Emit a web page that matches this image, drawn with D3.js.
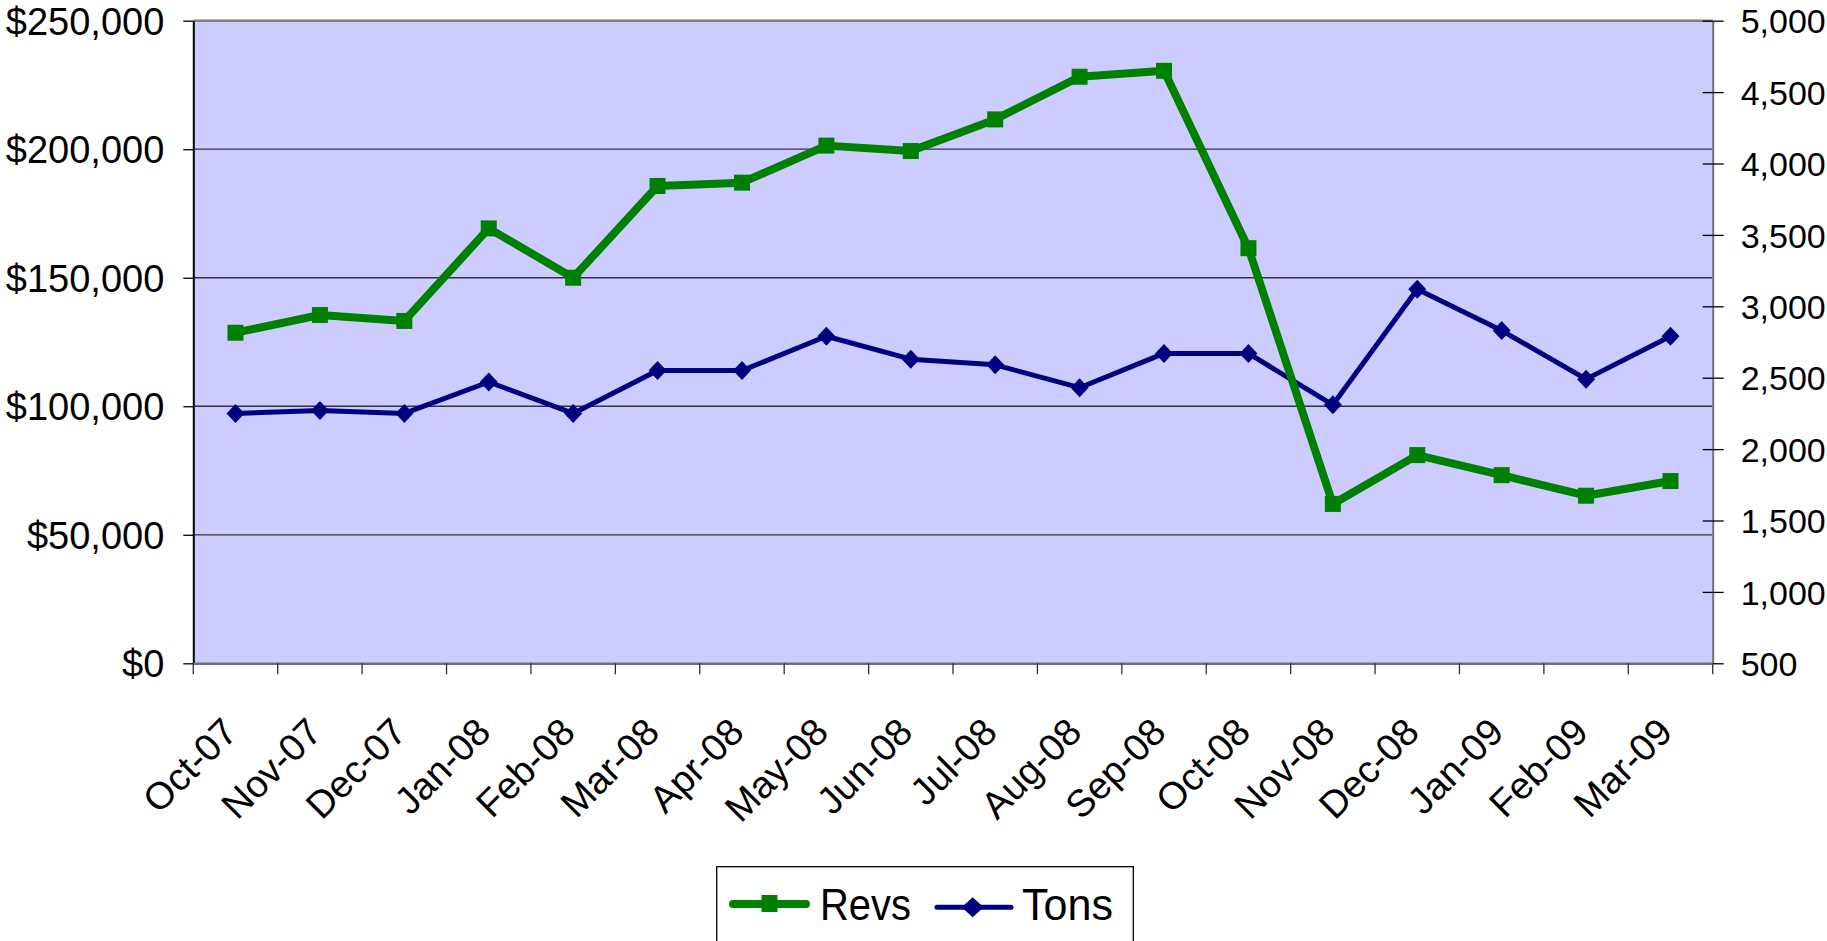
<!DOCTYPE html>
<html>
<head>
<meta charset="utf-8">
<script src="https://cdn.jsdelivr.net/npm/d3@7"></script>
<style>
  html, body { margin: 0; padding: 0; background: #fff; }
  svg { display: block; }
  text { font-family: "Liberation Sans", Arial, sans-serif; fill: #000; }
</style>
</head>
<body>
<svg id="chart" width="1827" height="941"></svg>
<script>
const categories = ["Oct-07","Nov-07","Dec-07","Jan-08","Feb-08","Mar-08","Apr-08","May-08","Jun-08","Jul-08","Aug-08","Sep-08","Oct-08","Nov-08","Dec-08","Jan-09","Feb-09","Mar-09"];
const revs = [128600, 135500, 133200, 169200, 150000, 185700, 187000, 201400, 199300, 211600, 228200, 230500, 161500, 62000, 81000, 73200, 65200, 70900];
const tons = [2250, 2270, 2250, 2470, 2250, 2550, 2550, 2790, 2630, 2590, 2430, 2670, 2670, 2310, 3120, 2830, 2490, 2790];
const leftTicks = [0, 50000, 100000, 150000, 200000, 250000];
const rightTicks = [500, 1000, 1500, 2000, 2500, 3000, 3500, 4000, 4500, 5000];
const seriesNames = ["Revs", "Tons"];

const svg = d3.select("#chart");
const L = 193.3, R = 1712.7, T = 20.7, B = 663.3;

const x = d3.scaleBand().domain(categories).range([L, R]).padding(0);
const yL = d3.scaleLinear().domain([0, 250000]).range([B, T]);
const yR = d3.scaleLinear().domain([500, 5000]).range([B, T]);

// plot background
svg.append("rect").attr("x", L).attr("y", T).attr("width", R - L).attr("height", B - T)
  .attr("fill", "#CCCCFF");

// gridlines
svg.append("g").selectAll("line").data(leftTicks.filter(d => d > 0 && d < 250000)).join("line")
  .attr("x1", L).attr("x2", R).attr("y1", d => yL(d)).attr("y2", d => yL(d))
  .attr("stroke", "#303040").attr("stroke-width", 1.3);

// top border
svg.append("line").attr("x1", L).attr("x2", R).attr("y1", T).attr("y2", T)
  .attr("stroke", "#808080").attr("stroke-width", 2.5);

// left axis
const axL = svg.append("g").attr("transform", `translate(${L},0)`)
  .call(d3.axisLeft(yL).tickValues(leftTicks).tickSize(10).tickSizeOuter(0).tickPadding(19)
    .tickFormat(d => "$" + d3.format(",")(d)));
axL.select(".domain").attr("stroke", "#000").attr("stroke-width", 2);
axL.selectAll(".tick line").attr("stroke", "#000").attr("stroke-width", 1.3);
axL.selectAll("text").attr("font-size", 38).attr("dy", "0.36em")
  .style("font-family", "'Liberation Sans', Arial, sans-serif");

// right axis
const axR = svg.append("g").attr("transform", `translate(${R},0)`)
  .call(d3.axisRight(yR).tickValues(rightTicks).tickSize(11).tickSizeOuter(0).tickPadding(17)
    .tickFormat(d3.format(",")));
axR.select(".domain").attr("stroke", "#707070").attr("stroke-width", 2);
axR.selectAll(".tick line").attr("x1", -10).attr("stroke", "#000").attr("stroke-width", 1.3);
axR.selectAll("text").attr("font-size", 34).attr("dy", "0.36em")
  .style("font-family", "'Liberation Sans', Arial, sans-serif");

// bottom axis (labels at band centers)
const axB = svg.append("g").attr("transform", `translate(0,${B})`)
  .call(d3.axisBottom(x).tickSize(0).tickSizeOuter(0).tickPadding(0));
axB.select(".domain").attr("stroke", "#707070").attr("stroke-width", 2.5);
axB.selectAll(".tick text")
  .attr("font-size", 38)
  .attr("text-anchor", "end")
  .attr("x", 0).attr("y", 0).attr("dy", 0)
  .attr("transform", "translate(4,71) rotate(-45)")
  .style("font-family", "'Liberation Sans', Arial, sans-serif");
// boundary tick marks between categories
const bounds = categories.map(c => x(c)).concat([x(categories[categories.length - 1]) + x.bandwidth()]);
svg.append("g").selectAll("line").data(bounds).join("line")
  .attr("x1", d => d).attr("x2", d => d).attr("y1", B).attr("y2", B + 11)
  .attr("stroke", "#303030").attr("stroke-width", 1.3);

const cx = (d, i) => x(categories[i]) + x.bandwidth() / 2;

// Tons line
const lineT = d3.line().x((d, i) => cx(d, i)).y(d => yR(d));
svg.append("path").datum(tons).attr("d", lineT).attr("fill", "none")
  .attr("stroke", "#000080").attr("stroke-width", 5).attr("stroke-linejoin", "round");
svg.append("g").selectAll("path").data(tons).join("path")
  .attr("d", "M0,-9.5L9,0L0,9.5L-9,0Z")
  .attr("transform", (d, i) => `translate(${cx(d, i)},${yR(d)})`)
  .attr("fill", "#000080");

// Revs line
const lineR = d3.line().x((d, i) => cx(d, i)).y(d => yL(d));
svg.append("path").datum(revs).attr("d", lineR).attr("fill", "none")
  .attr("stroke", "#008000").attr("stroke-width", 8).attr("stroke-linejoin", "round");
svg.append("g").selectAll("rect").data(revs).join("rect")
  .attr("x", (d, i) => cx(d, i) - 8).attr("y", d => yL(d) - 8)
  .attr("width", 16).attr("height", 16).attr("fill", "#008000");

// legend
const lg = svg.append("g");
lg.append("rect").attr("x", 716.7).attr("y", 866.7).attr("width", 416.6).attr("height", 90)
  .attr("fill", "#fff").attr("stroke", "#000").attr("stroke-width", 1.3);
// Revs entry
lg.append("line").attr("x1", 733).attr("x2", 806).attr("y1", 904).attr("y2", 904)
  .attr("stroke", "#008000").attr("stroke-width", 8).attr("stroke-linecap", "round");
lg.append("rect").attr("x", 761.5).attr("y", 895).attr("width", 16).attr("height", 17).attr("fill", "#008000");
lg.append("text").attr("x", 820).attr("y", 920).attr("font-size", 45)
  .attr("textLength", 91).attr("lengthAdjust", "spacingAndGlyphs").text(seriesNames[0]);
// Tons entry
lg.append("line").attr("x1", 937).attr("x2", 1011).attr("y1", 907.3).attr("y2", 907.3)
  .attr("stroke", "#000080").attr("stroke-width", 5).attr("stroke-linecap", "round");
lg.append("path").attr("d", "M0,-10L11,0L0,10L-11,0Z").attr("transform", "translate(972.7,907.3)")
  .attr("fill", "#000080");
lg.append("text").attr("x", 1022).attr("y", 920).attr("font-size", 45)
  .attr("textLength", 91).attr("lengthAdjust", "spacingAndGlyphs").text(seriesNames[1]);
</script>
</body>
</html>
